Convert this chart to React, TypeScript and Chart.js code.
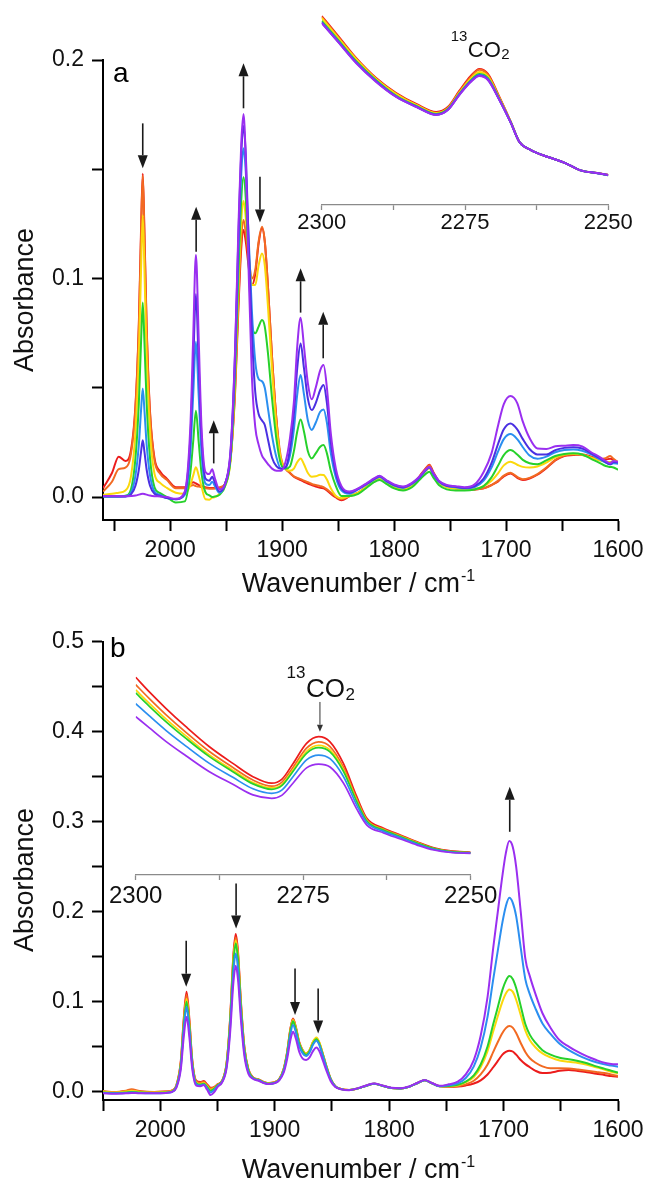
import React, { useEffect, useRef } from "react";
import { Chart, registerables } from "chart.js";

Chart.register(...registerables);

const FONT = '"Liberation Sans", Arial, Helvetica, sans-serif';
Chart.defaults.font.family = FONT;
Chart.defaults.color = "#111";

// ---------------- Panel a : main spectra ----------------
const WN_A = [2060, 2052, 2046, 2040, 2035,
  2031, 2028, 2026, 2024.5, 2023, 2021, 2018, 2014, 2009, 2003, 1995,
  1987, 1982, 1979.5, 1977, 1974.5, 1972, 1968.5, 1965, 1962.5, 1960, 1956,
  1951, 1946, 1942, 1939, 1936.5, 1934.5, 1932.5, 1930, 1927, 1924, 1921, 1918, 1915.5, 1912.5, 1909, 1905, 1901,
  1897, 1893, 1889.5, 1886.5, 1883.5, 1880.5, 1877, 1873.5, 1870, 1866, 1863, 1860, 1856.5, 1852, 1847, 1840,
  1832, 1824, 1818, 1813, 1807, 1800, 1792, 1784, 1777, 1772, 1768.5, 1765, 1760, 1753, 1745, 1737, 1728,
  1720, 1713, 1707, 1702, 1696, 1690, 1685, 1679, 1672, 1664, 1656, 1648, 1640, 1632, 1624, 1617, 1611, 1607, 1604, 1600];

const A_RED = [0.004, 0.011, 0.0185, 0.0165, 0.0214,
  0.042, 0.079, 0.1228, 0.148, 0.1218, 0.0783, 0.039, 0.0178, 0.0117, 0.0084, 0.0045,
  0.0045, 0.006, 0.0068, 0.0062, 0.0055, 0.005, 0.0045, 0.0042, 0.0042, 0.004, 0.0042,
  0.006, 0.018, 0.048, 0.087, 0.114, 0.1222, 0.117, 0.106, 0.097, 0.102, 0.116, 0.123, 0.117, 0.095, 0.064, 0.035, 0.016,
  0.013, 0.011, 0.0093, 0.0085, 0.0078, 0.007, 0.0062, 0.0055, 0.0048, 0.0042, 0.004, 0.003, 0.0015, -0.0002, -0.0015, 0.0003,
  0.002, 0.005, 0.0072, 0.0088, 0.0068, 0.0048, 0.0038, 0.0055, 0.0097, 0.013, 0.0148, 0.0115, 0.0072, 0.0052, 0.004, 0.0035, 0.0035,
  0.004, 0.0055, 0.0072, 0.0095, 0.0108, 0.0088, 0.0078, 0.0085, 0.0102, 0.0132, 0.0168, 0.0188, 0.0192, 0.0195, 0.0185, 0.0175, 0.0172, 0.0175, 0.017, 0.0155];

const A_ORANGE = [0.0025, 0.007, 0.0128, 0.0135, 0.0199,
  0.041, 0.0778, 0.12, 0.147, 0.12, 0.0768, 0.038, 0.0168, 0.0107, 0.0079, 0.004,
  0.004, 0.005, 0.0055, 0.005, 0.0048, 0.0045, 0.004, 0.0038, 0.0038, 0.004, 0.0045,
  0.006, 0.018, 0.05, 0.09, 0.118, 0.1268, 0.121, 0.11, 0.1, 0.104, 0.117, 0.1237, 0.117, 0.095, 0.064, 0.035, 0.018,
  0.013, 0.011, 0.0095, 0.0088, 0.0082, 0.0075, 0.0068, 0.006, 0.0055, 0.005, 0.0045, 0.0035, 0.002, 0.0002, -0.001, 0.0005,
  0.002, 0.005, 0.0072, 0.0088, 0.0068, 0.0048, 0.0038, 0.0055, 0.0095, 0.0128, 0.0145, 0.0112, 0.007, 0.005, 0.004, 0.0035, 0.0035,
  0.004, 0.0055, 0.0075, 0.0098, 0.0111, 0.0092, 0.0082, 0.0088, 0.0105, 0.0135, 0.017, 0.019, 0.0195, 0.0192, 0.0182, 0.0175, 0.0178, 0.0188, 0.0175, 0.016];

const A_YELLOW = [0.001, 0.0015, 0.002, 0.003, 0.0095,
  0.0298, 0.0645, 0.1042, 0.129, 0.1042, 0.0645, 0.0298, 0.0107, 0.0065, 0.0042, 0.002,
  0.0015, 0.0055, 0.0098, 0.0136, 0.0098, 0.0048, -0.001, -0.0012, -0.0003, 0.0, 0.0015,
  0.005, 0.017, 0.053, 0.096, 0.126, 0.1355, 0.128, 0.112, 0.097, 0.097, 0.106, 0.1115, 0.106, 0.086, 0.058, 0.032, 0.017,
  0.013, 0.012, 0.013, 0.016, 0.0177, 0.015, 0.011, 0.0093, 0.0095, 0.0102, 0.0101, 0.008, 0.004, 0.0005, -0.0005, 0.0005,
  0.002, 0.005, 0.0072, 0.0085, 0.0065, 0.0045, 0.0035, 0.0052, 0.0088, 0.0118, 0.0132, 0.0102, 0.0065, 0.0045, 0.0038, 0.0035, 0.0037,
  0.005, 0.0075, 0.011, 0.0145, 0.0162, 0.0148, 0.0138, 0.0135, 0.014, 0.0158, 0.0182, 0.0195, 0.0198, 0.0195, 0.018, 0.0168, 0.0162, 0.016, 0.0165, 0.016];

const A_GREEN = [0.0002, 0.0002, 0.0003, 0.0006, 0.0036,
  0.0178, 0.0427, 0.0712, 0.089, 0.0712, 0.0427, 0.0178, 0.0045, 0.0018, 0.0, -0.0025,
  -0.002, 0.011, 0.025, 0.0395, 0.025, 0.011, 0.0022, 0.0008, 0.0, 0.0003, 0.001,
  0.005, 0.018, 0.057, 0.104, 0.136, 0.1463, 0.137, 0.108, 0.079, 0.075, 0.078, 0.081, 0.078, 0.065, 0.045, 0.026, 0.015,
  0.013, 0.014, 0.021, 0.03, 0.0355, 0.03, 0.021, 0.0177, 0.02, 0.023, 0.0238, 0.02, 0.012, 0.005, 0.0005, 0.0005,
  0.0015, 0.0045, 0.0068, 0.0078, 0.006, 0.004, 0.003, 0.0045, 0.008, 0.0105, 0.0116, 0.009, 0.0055, 0.0035, 0.003, 0.003, 0.0035,
  0.005, 0.009, 0.0145, 0.0192, 0.0215, 0.0195, 0.017, 0.0155, 0.015, 0.0168, 0.0188, 0.0197, 0.02, 0.0195, 0.0175, 0.0158, 0.0142, 0.0138, 0.0135, 0.0125];

const A_BLUE = [0.0003, 0.0002, 0.0002, 0.0003, 0.002,
  0.0099, 0.0239, 0.0398, 0.0497, 0.0398, 0.0239, 0.0099, 0.0025, 0.001, -0.0005, -0.001,
  0.001, 0.02, 0.046, 0.0711, 0.046, 0.02, 0.0062, 0.0055, 0.007, 0.005, 0.002,
  0.006, 0.02, 0.062, 0.113, 0.148, 0.1596, 0.149, 0.12, 0.085, 0.062, 0.054, 0.053, 0.05, 0.04, 0.028, 0.018, 0.013,
  0.0135, 0.019, 0.031, 0.047, 0.0558, 0.047, 0.035, 0.0307, 0.034, 0.039, 0.0401, 0.034, 0.02, 0.009, 0.003, 0.0015,
  0.0035, 0.006, 0.008, 0.0092, 0.0072, 0.0052, 0.0042, 0.006, 0.009, 0.012, 0.0135, 0.0105, 0.007, 0.005, 0.0045, 0.004, 0.0046,
  0.0075, 0.0135, 0.021, 0.0265, 0.0288, 0.0265, 0.0228, 0.019, 0.0175, 0.0185, 0.0205, 0.0215, 0.0218, 0.0212, 0.0195, 0.0175, 0.0158, 0.015, 0.0155, 0.0152];

const A_DARKBLUE = [0.0003, 0.0003, 0.0003, 0.0003, 0.0012,
  0.0052, 0.0125, 0.0208, 0.026, 0.0208, 0.0125, 0.0052, 0.0015, 0.0005, -0.0005, -0.001,
  0.0018, 0.027, 0.06, 0.0929, 0.06, 0.027, 0.0085, 0.0075, 0.0093, 0.0065, 0.0025,
  0.006, 0.021, 0.066, 0.12, 0.157, 0.1698, 0.157, 0.118, 0.075, 0.048, 0.038, 0.035, 0.033, 0.026, 0.018, 0.014, 0.013,
  0.0135, 0.022, 0.038, 0.059, 0.0703, 0.059, 0.045, 0.0398, 0.043, 0.049, 0.0513, 0.043, 0.025, 0.011, 0.004, 0.002,
  0.0038, 0.0062, 0.0082, 0.0095, 0.0075, 0.0055, 0.0045, 0.0062, 0.0092, 0.0122, 0.0136, 0.0108, 0.0072, 0.0052, 0.0047, 0.0042, 0.005,
  0.0085, 0.0155, 0.0245, 0.031, 0.0337, 0.031, 0.0265, 0.022, 0.0195, 0.0195, 0.0215, 0.0225, 0.0228, 0.0222, 0.02, 0.018, 0.016, 0.015, 0.016, 0.0158];

const A_PURPLE = [0.0005, 0.0005, 0.0004, 0.0004, 0.0005,
  0.0007, 0.0011, 0.0014, 0.0015, 0.0014, 0.0011, 0.0007, 0.0004, 0.0003, 0.0, -0.0008,
  0.0025, 0.032, 0.072, 0.1108, 0.072, 0.032, 0.0115, 0.0105, 0.0127, 0.0085, 0.0035,
  0.006, 0.022, 0.068, 0.124, 0.162, 0.1753, 0.155, 0.105, 0.055, 0.032, 0.024, 0.019, 0.017, 0.015, 0.013, 0.012, 0.012,
  0.016, 0.027, 0.0435, 0.069, 0.0821, 0.069, 0.052, 0.0447, 0.05, 0.058, 0.0604, 0.05, 0.029, 0.013, 0.005, 0.0025,
  0.004, 0.0065, 0.0085, 0.0098, 0.0078, 0.0058, 0.0048, 0.0065, 0.0095, 0.0125, 0.0138, 0.011, 0.0075, 0.0055, 0.005, 0.0045, 0.0058,
  0.0115, 0.02, 0.033, 0.0425, 0.0462, 0.043, 0.0345, 0.027, 0.0222, 0.022, 0.0232, 0.0235, 0.0238, 0.0232, 0.0205, 0.0185, 0.0165, 0.0155, 0.0165, 0.0162];

// arrows of panel a (wavenumber, tail absorbance, tip absorbance)
const A_ARROWS = [
  { x: 2024.5, from: 0.171, to: 0.1505 },
  { x: 1976.8, from: 0.1123, to: 0.1329 },
  { x: 1961.1, from: 0.0154, to: 0.0352 },
  { x: 1934.5, from: 0.1779, to: 0.1985 },
  { x: 1919.8, from: 0.1466, to: 0.1256 },
  { x: 1883.5, from: 0.0844, to: 0.1047 },
  { x: 1863.3, from: 0.0635, to: 0.0848 },
];

// ---------------- Panel a : 13CO2 inset (relative absorbance) ----------------
const INSET_A_WN = [2300, 2297, 2294, 2290.5, 2287, 2283.5, 2280, 2278, 2276, 2274, 2272.5, 2271, 2269, 2267, 2265.5, 2263.5, 2260.5, 2257.5, 2255, 2252, 2250];
const IA_RED = [0.969, 0.862, 0.754, 0.651, 0.574, 0.518, 0.477, 0.502, 0.585, 0.662, 0.698, 0.672, 0.554, 0.426, 0.323, 0.282, 0.246, 0.215, 0.179, 0.164, 0.154];
const IA_ORANGE = [0.964, 0.857, 0.749, 0.646, 0.569, 0.513, 0.472, 0.497, 0.58, 0.656, 0.693, 0.667, 0.551, 0.424, 0.323, 0.282, 0.246, 0.215, 0.179, 0.164, 0.154];
const IA_YELLOW = [0.959, 0.852, 0.749, 0.646, 0.569, 0.513, 0.472, 0.495, 0.575, 0.648, 0.682, 0.659, 0.546, 0.424, 0.323, 0.282, 0.246, 0.215, 0.179, 0.164, 0.154];
const IA_GREEN = [0.944, 0.841, 0.738, 0.64, 0.56, 0.508, 0.467, 0.492, 0.57, 0.639, 0.672, 0.651, 0.543, 0.423, 0.323, 0.282, 0.246, 0.215, 0.179, 0.164, 0.152];
const IA_BLUE = [0.938, 0.836, 0.733, 0.636, 0.557, 0.505, 0.464, 0.489, 0.567, 0.636, 0.667, 0.646, 0.54, 0.422, 0.323, 0.282, 0.246, 0.215, 0.179, 0.163, 0.152];
const IA_DARKBLUE = [0.935, 0.833, 0.73, 0.633, 0.555, 0.504, 0.463, 0.488, 0.565, 0.633, 0.664, 0.643, 0.539, 0.421, 0.323, 0.282, 0.246, 0.215, 0.179, 0.164, 0.154];
const IA_PURPLE = [0.933, 0.831, 0.728, 0.631, 0.554, 0.503, 0.462, 0.487, 0.564, 0.631, 0.662, 0.641, 0.538, 0.421, 0.323, 0.282, 0.246, 0.215, 0.179, 0.164, 0.154];

// ---------------- Panel b : main spectra ----------------
const WN_B = [2050, 2040, 2030, 2025, 2018, 2005, 1995, 1990,
  1986, 1982, 1979.5, 1977, 1974.5, 1972, 1968.5, 1965, 1962, 1959, 1956, 1953, 1950,
  1946, 1942, 1939, 1936, 1934, 1932, 1929.5, 1926.5, 1923, 1919, 1914, 1909, 1905, 1900,
  1896, 1892, 1889, 1886.5, 1884, 1881.5, 1878.5, 1875.5, 1872.5, 1869.5, 1866.5, 1863.5, 1861, 1858, 1855, 1851, 1847, 1842, 1835,
  1827, 1820, 1813, 1806, 1798, 1790, 1782, 1775, 1769, 1763, 1756, 1748,
  1740, 1733, 1726, 1720, 1714, 1709, 1705, 1701, 1698, 1695, 1692, 1689, 1685, 1681, 1677, 1672, 1666, 1659, 1651, 1643, 1635, 1627, 1619, 1612, 1606, 1600];

const B_RED = [0.0, -0.001, 0.0005, 0.0015, 0.0, -0.0005, 0.0, 0.001,
  0.0065, 0.034, 0.08, 0.111, 0.08, 0.035, 0.012, 0.0105, 0.0117, 0.008, 0.0043, 0.005, 0.008,
  0.012, 0.032, 0.08, 0.153, 0.175, 0.155, 0.1, 0.05, 0.025, 0.016, 0.0135, 0.0105, 0.0095, 0.0105,
  0.014, 0.026, 0.045, 0.068, 0.0813, 0.072, 0.055, 0.046, 0.0424, 0.046, 0.055, 0.059, 0.054, 0.042, 0.029, 0.014, 0.006, 0.003, 0.0018,
  0.0035, 0.0065, 0.0088, 0.0065, 0.004, 0.0035, 0.0055, 0.0095, 0.0125, 0.0095, 0.006, 0.0052,
  0.0055, 0.0068, 0.009, 0.0125, 0.019, 0.027, 0.034, 0.041, 0.044, 0.0454, 0.0445, 0.041, 0.035, 0.0305, 0.027, 0.023, 0.0205, 0.021, 0.023, 0.024, 0.0228, 0.0215, 0.0198, 0.0185, 0.0172, 0.0165];

const B_ORANGE = [0.0005, -0.0005, 0.001, 0.0025, 0.0005, -0.0005, 0.0, 0.001,
  0.006, 0.0325, 0.077, 0.1072, 0.077, 0.0335, 0.011, 0.0098, 0.0108, 0.007, 0.0035, 0.0045, 0.0075,
  0.0118, 0.031, 0.078, 0.15, 0.1713, 0.152, 0.098, 0.049, 0.0245, 0.0158, 0.0133, 0.0103, 0.0093, 0.0103,
  0.0138, 0.0255, 0.044, 0.067, 0.0805, 0.071, 0.054, 0.0455, 0.042, 0.0455, 0.0545, 0.0588, 0.0538, 0.0418, 0.0288, 0.0138, 0.0058, 0.0028, 0.0017,
  0.0035, 0.0065, 0.0088, 0.0065, 0.004, 0.0035, 0.0055, 0.0095, 0.0125, 0.0095, 0.006, 0.0055,
  0.006, 0.008, 0.012, 0.019, 0.03, 0.044, 0.055, 0.065, 0.0705, 0.0728, 0.071, 0.065, 0.054, 0.044, 0.037, 0.032, 0.028, 0.0258, 0.0258, 0.0256, 0.0245, 0.0232, 0.0218, 0.0205, 0.019, 0.0172];

const B_YELLOW = [0.0, -0.001, 0.0, 0.001, -0.0005, -0.001, -0.0005, 0.0005,
  0.0058, 0.031, 0.074, 0.103, 0.074, 0.032, 0.0098, 0.0085, 0.0095, 0.0058, 0.002, 0.0035, 0.007,
  0.0115, 0.031, 0.077, 0.147, 0.168, 0.149, 0.096, 0.048, 0.024, 0.0155, 0.013, 0.01, 0.009, 0.01,
  0.0135, 0.025, 0.0435, 0.066, 0.0794, 0.0705, 0.054, 0.0455, 0.0422, 0.046, 0.0555, 0.06, 0.0548, 0.0425, 0.029, 0.0138, 0.0058, 0.0028, 0.0017,
  0.0035, 0.0065, 0.0088, 0.0065, 0.004, 0.0035, 0.0055, 0.0095, 0.0125, 0.0095, 0.006, 0.006,
  0.007, 0.0105, 0.016, 0.027, 0.045, 0.067, 0.084, 0.1, 0.109, 0.1135, 0.111, 0.102, 0.085, 0.068, 0.057, 0.049, 0.0424, 0.038, 0.0345, 0.033, 0.0318, 0.0298, 0.027, 0.0245, 0.022, 0.0202];

const B_GREEN = [-0.001, -0.0015, -0.001, -0.0005, -0.001, -0.0015, -0.001, 0.0,
  0.0055, 0.03, 0.072, 0.0998, 0.072, 0.031, 0.009, 0.0078, 0.0088, 0.005, 0.001, 0.003, 0.0068,
  0.0113, 0.03, 0.075, 0.144, 0.1646, 0.146, 0.094, 0.047, 0.0235, 0.0152, 0.0128, 0.0098, 0.0088, 0.0098,
  0.0133, 0.0245, 0.043, 0.065, 0.078, 0.069, 0.053, 0.0445, 0.041, 0.0448, 0.0535, 0.058, 0.053, 0.041, 0.028, 0.0135, 0.0057, 0.0027, 0.0016,
  0.0035, 0.0065, 0.0088, 0.0065, 0.004, 0.0035, 0.0055, 0.0095, 0.0125, 0.0095, 0.006, 0.0062,
  0.0075, 0.011, 0.018, 0.03, 0.05, 0.075, 0.094, 0.113, 0.123, 0.1283, 0.125, 0.115, 0.095, 0.075, 0.063, 0.054, 0.046, 0.041, 0.0375, 0.036, 0.034, 0.0315, 0.028, 0.0255, 0.0232, 0.021];

const B_BLUE = [-0.0015, -0.002, -0.0015, -0.001, -0.0015, -0.002, -0.0015, -0.0005,
  0.005, 0.028, 0.068, 0.0943, 0.068, 0.029, 0.008, 0.0068, 0.0078, 0.0035, -0.001, 0.0015, 0.006,
  0.0108, 0.028, 0.07, 0.134, 0.1535, 0.136, 0.088, 0.044, 0.022, 0.0148, 0.0125, 0.0095, 0.0085, 0.0095,
  0.013, 0.0235, 0.041, 0.062, 0.0739, 0.066, 0.0505, 0.0425, 0.0395, 0.0435, 0.052, 0.0565, 0.0518, 0.0402, 0.0275, 0.0132, 0.0056, 0.0027, 0.0016,
  0.0035, 0.0065, 0.0088, 0.0065, 0.004, 0.0035, 0.0055, 0.0095, 0.0125, 0.0095, 0.006, 0.007,
  0.009, 0.015, 0.028, 0.049, 0.083, 0.125, 0.157, 0.188, 0.206, 0.2154, 0.21, 0.195, 0.16, 0.125, 0.108, 0.092, 0.0757, 0.064, 0.053, 0.046, 0.0405, 0.036, 0.0325, 0.0302, 0.0288, 0.0276];

const B_PURPLE = [-0.002, -0.0025, -0.002, -0.0015, -0.002, -0.002, -0.0015, -0.0005,
  0.004, 0.025, 0.06, 0.0831, 0.06, 0.025, 0.0065, 0.0058, 0.0072, 0.002, -0.0039, -0.001, 0.005,
  0.01, 0.026, 0.064, 0.122, 0.1398, 0.124, 0.08, 0.04, 0.02, 0.0142, 0.012, 0.0093, 0.0083, 0.0093,
  0.0125, 0.0215, 0.037, 0.0555, 0.0665, 0.059, 0.044, 0.0365, 0.035, 0.038, 0.045, 0.049, 0.045, 0.035, 0.024, 0.0115, 0.005, 0.0025, 0.0015,
  0.0038, 0.0068, 0.009, 0.0068, 0.0042, 0.0037, 0.0058, 0.0098, 0.0128, 0.0098, 0.0063, 0.008,
  0.011, 0.019, 0.035, 0.062, 0.105, 0.16, 0.2, 0.24, 0.265, 0.2784, 0.272, 0.25, 0.2, 0.148, 0.128, 0.108, 0.087, 0.071, 0.057, 0.05, 0.044, 0.039, 0.035, 0.032, 0.0305, 0.0302];

const B_ARROWS = [
  { x: 1977.3, from: 0.1676, to: 0.1165 },
  { x: 1933.7, from: 0.2313, to: 0.1813 },
  { x: 1882.2, from: 0.1369, to: 0.085 },
  { x: 1862, from: 0.1146, to: 0.0646 },
  { x: 1694.6, from: 0.2887, to: 0.3387 },
];

// ---------------- Panel b : 13CO2 inset (relative absorbance) ----------------
const INSET_B_WN = [2300, 2298, 2295.5, 2292.5, 2289, 2285.5, 2282.5, 2279.7, 2278.2, 2276.5, 2274.5, 2272.7, 2271, 2269, 2267, 2265.5, 2263, 2260.5, 2258, 2255.5, 2253, 2250];
const IB_RED = [0.879, 0.815, 0.741, 0.659, 0.57, 0.496, 0.437, 0.408, 0.425, 0.496, 0.585, 0.615, 0.592, 0.496, 0.348, 0.252, 0.208, 0.178, 0.148, 0.121, 0.107, 0.101];
const IB_ORANGE = [0.846, 0.785, 0.713, 0.634, 0.549, 0.478, 0.422, 0.395, 0.412, 0.479, 0.564, 0.592, 0.571, 0.479, 0.338, 0.246, 0.204, 0.175, 0.145, 0.119, 0.106, 0.1];
const IB_YELLOW = [0.823, 0.764, 0.694, 0.618, 0.534, 0.466, 0.411, 0.387, 0.402, 0.468, 0.55, 0.576, 0.556, 0.468, 0.33, 0.242, 0.201, 0.172, 0.143, 0.116, 0.103, 0.098];
const IB_GREEN = [0.809, 0.751, 0.682, 0.607, 0.526, 0.459, 0.405, 0.381, 0.397, 0.461, 0.541, 0.566, 0.547, 0.461, 0.326, 0.24, 0.2, 0.171, 0.142, 0.117, 0.104, 0.099];
const IB_BLUE = [0.762, 0.708, 0.643, 0.573, 0.496, 0.434, 0.383, 0.363, 0.377, 0.438, 0.512, 0.533, 0.517, 0.438, 0.311, 0.232, 0.194, 0.166, 0.138, 0.114, 0.102, 0.098];
const IB_PURPLE = [0.704, 0.655, 0.594, 0.53, 0.459, 0.403, 0.356, 0.341, 0.354, 0.409, 0.476, 0.493, 0.48, 0.409, 0.293, 0.222, 0.187, 0.16, 0.133, 0.111, 0.1, 0.096];

// ---------------- colours ----------------
const RED = "#ec1c1c";
const ORANGE = "#f26a22";
const YELLOW = "#fbd80c";
const GREEN = "#27d12b";
const BLUE = "#2b8ff0";
const DARKBLUE = "#4a30e2";
const PURPLE = "#9a2ff0";

type Series = { label: string; color: string; values: number[] };
type Arrow = { x: number; from: number; to: number };

function makeDatasets(wn: number[], series: Series[], width: number) {
  return series.map((s, i) => ({
    label: s.label,
    data: wn.map((x, k) => ({ x, y: s.values[k] })),
    borderColor: s.color,
    backgroundColor: s.color,
    borderWidth: width,
    pointRadius: 0,
    fill: false,
    cubicInterpolationMode: "monotone" as const,
    order: series.length - 1 - i,
  }));
}

function drawArrow(ctx: CanvasRenderingContext2D, x: number, y0: number, y1: number, head: number, half: number, lw: number, color: string) {
  const dir = Math.sign(y1 - y0);
  const baseY = y1 - dir * head;
  ctx.strokeStyle = color;
  ctx.fillStyle = color;
  ctx.lineWidth = lw;
  ctx.beginPath();
  ctx.moveTo(x, y0);
  ctx.lineTo(x, baseY);
  ctx.stroke();
  ctx.beginPath();
  ctx.moveTo(x, y1);
  ctx.lineTo(x - half, baseY);
  ctx.lineTo(x + half, baseY);
  ctx.closePath();
  ctx.fill();
}

function drawXTitle(ctx: CanvasRenderingContext2D, cx: number, baseline: number) {
  const main = "Wavenumber / cm";
  const sup = "-1";
  ctx.font = `27px ${FONT}`;
  const w1 = ctx.measureText(main).width;
  ctx.font = `16px ${FONT}`;
  const w2 = ctx.measureText(sup).width;
  const x0 = cx - (w1 + w2) / 2;
  ctx.fillStyle = "#111";
  ctx.textAlign = "left";
  ctx.textBaseline = "alphabetic";
  ctx.font = `27px ${FONT}`;
  ctx.fillText(main, x0, baseline);
  ctx.font = `16px ${FONT}`;
  ctx.fillText(sup, x0 + w1 + 1, baseline - 11);
}

function drawCO2(ctx: CanvasRenderingContext2D, xLeft: number, baseline: number, size: number) {
  const small = Math.round(size * 0.66);
  ctx.fillStyle = "#111";
  ctx.textBaseline = "alphabetic";
  ctx.font = `${small}px ${FONT}`;
  ctx.textAlign = "right";
  ctx.fillText("13", xLeft - 0.5, baseline - size * 0.72);
  ctx.font = `${size}px ${FONT}`;
  ctx.textAlign = "left";
  ctx.fillText("CO", xLeft, baseline);
  const w = ctx.measureText("CO").width;
  ctx.font = `${small}px ${FONT}`;
  ctx.fillText("2", xLeft + w + 0.5, baseline + size * 0.1);
}

type MainSpec = {
  wn: number[];
  series: Series[];
  xMin: number;
  xMax: number;
  yMin: number;
  yMax: number;
  padTop: number;
  xAxisH: number;
  arrows: Arrow[];
  letter: string;
  letterX: number;
  letterY: number;
  absY: number;
  titleY: number;
};

// main canvases are 660 px wide (clipped at 647 by the page box) so that the
// "1600" label never forces Chart.js to shrink the plot area
const MAIN_W = 660;
const PLOT_RIGHT = 618;

function mainConfig(p: MainSpec): any {
  const axisCommon = {
    border: { display: true, color: "#000", width: 2 },
    grid: { display: true, drawOnChartArea: false, drawTicks: true, tickLength: 11, tickWidth: 2, tickColor: "#000" },
  };
  const plugin = {
    id: "mainAnnot",
    afterDraw(chart: any) {
      const ctx: CanvasRenderingContext2D = chart.ctx;
      const xs = chart.scales.x;
      const ys = chart.scales.y;
      ctx.save();
      p.arrows.forEach((a) =>
        drawArrow(ctx, xs.getPixelForValue(a.x), ys.getPixelForValue(a.from), ys.getPixelForValue(a.to), 13, 5, 1.6, "#1a1a1a")
      );
      ctx.fillStyle = "#000";
      ctx.font = `28px ${FONT}`;
      ctx.textAlign = "left";
      ctx.textBaseline = "alphabetic";
      ctx.fillText(p.letter, p.letterX, p.letterY);
      ctx.save();
      ctx.translate(26, p.absY);
      ctx.rotate(-Math.PI / 2);
      ctx.font = `27px ${FONT}`;
      ctx.textAlign = "center";
      ctx.textBaseline = "middle";
      ctx.fillStyle = "#111";
      ctx.fillText("Absorbance", 0, 0);
      ctx.restore();
      drawXTitle(ctx, 358, p.titleY);
      ctx.restore();
    },
  };
  return {
    type: "line",
    data: { datasets: makeDatasets(p.wn, p.series, 2) },
    options: {
      animation: false,
      responsive: false,
      devicePixelRatio: 1,
      layout: { padding: { left: 0, right: MAIN_W - PLOT_RIGHT, top: p.padTop, bottom: 0 } },
      plugins: { legend: { display: false }, tooltip: { enabled: false } },
      scales: {
        x: {
          type: "linear",
          reverse: true,
          min: p.xMin,
          max: p.xMax,
          afterFit: (s: any) => {
            s.height = p.xAxisH;
          },
          ...axisCommon,
          ticks: {
            stepSize: 50,
            includeBounds: false,
            autoSkip: false,
            maxRotation: 0,
            minRotation: 0,
            padding: 6,
            color: "#111",
            font: { family: FONT, size: 23 },
            callback: (v: number) => (Math.round(v) % 100 === 0 ? String(v) : ""),
          },
        },
        y: {
          type: "linear",
          min: p.yMin,
          max: p.yMax,
          afterFit: (s: any) => {
            s.width = 103;
          },
          ...axisCommon,
          ticks: {
            stepSize: 0.05,
            includeBounds: false,
            padding: 8,
            color: "#111",
            font: { family: FONT, size: 23 },
            callback: (v: number) => {
              const t = Math.round(v * 100);
              return t % 10 === 0 ? (t / 100).toFixed(1) : "";
            },
          },
        },
      },
    },
    plugins: [plugin],
  };
}

type InsetSpec = {
  wn: number[];
  series: Series[];
  padLeft: number;
  padRight: number;
  axisH: number;
  fontSize: number;
  tickPad: number;
  labelX: number;
  labelY: number;
  labelSize: number;
  arrow?: Arrow;
  lineWidth: number;
};

function insetConfig(p: InsetSpec): any {
  const plugin = {
    id: "insetAnnot",
    afterDraw(chart: any) {
      const ctx: CanvasRenderingContext2D = chart.ctx;
      const xs = chart.scales.x;
      const ys = chart.scales.y;
      ctx.save();
      drawCO2(ctx, xs.getPixelForValue(p.labelX), ys.getPixelForValue(p.labelY), p.labelSize);
      if (p.arrow) {
        drawArrow(ctx, xs.getPixelForValue(p.arrow.x), ys.getPixelForValue(p.arrow.from), ys.getPixelForValue(p.arrow.to), 7, 3, 1, "#333");
      }
      ctx.restore();
    },
  };
  return {
    type: "line",
    data: { datasets: makeDatasets(p.wn, p.series, p.lineWidth) },
    options: {
      animation: false,
      responsive: false,
      devicePixelRatio: 1,
      layout: { padding: { left: p.padLeft, right: p.padRight, top: 10, bottom: 0 } },
      plugins: { legend: { display: false }, tooltip: { enabled: false } },
      scales: {
        x: {
          type: "linear",
          reverse: true,
          min: 2250,
          max: 2300,
          afterFit: (s: any) => {
            s.height = p.axisH;
          },
          border: { display: true, color: "#8a8a8a", width: 1.3 },
          grid: { display: true, drawOnChartArea: false, drawTicks: true, tickLength: 5, tickWidth: 1.3, tickColor: "#8a8a8a" },
          ticks: {
            stepSize: 12.5,
            includeBounds: false,
            autoSkip: false,
            maxRotation: 0,
            minRotation: 0,
            padding: p.tickPad,
            color: "#111",
            font: { family: FONT, size: p.fontSize },
            callback: (v: number) => (v % 25 === 0 ? String(v) : ""),
          },
        },
        y: { display: false, min: 0, max: 1 },
      },
    },
    plugins: [plugin],
  };
}

function ChartBox(props: { left: number; top: number; width: number; height: number; build: () => any }) {
  const ref = useRef<HTMLCanvasElement>(null);
  useEffect(() => {
    const chart = new Chart(ref.current as HTMLCanvasElement, props.build());
    return () => chart.destroy();
  }, []);
  return (
    <canvas
      ref={ref}
      width={props.width}
      height={props.height}
      style={{ position: "absolute", left: props.left, top: props.top, width: props.width, height: props.height }}
    />
  );
}

const SERIES_A: Series[] = [
  { label: "1", color: RED, values: A_RED },
  { label: "2", color: ORANGE, values: A_ORANGE },
  { label: "3", color: YELLOW, values: A_YELLOW },
  { label: "4", color: GREEN, values: A_GREEN },
  { label: "5", color: BLUE, values: A_BLUE },
  { label: "6", color: DARKBLUE, values: A_DARKBLUE },
  { label: "7", color: PURPLE, values: A_PURPLE },
];
const SERIES_IA: Series[] = [
  { label: "1", color: RED, values: IA_RED },
  { label: "2", color: ORANGE, values: IA_ORANGE },
  { label: "3", color: YELLOW, values: IA_YELLOW },
  { label: "4", color: GREEN, values: IA_GREEN },
  { label: "5", color: BLUE, values: IA_BLUE },
  { label: "6", color: DARKBLUE, values: IA_DARKBLUE },
  { label: "7", color: PURPLE, values: IA_PURPLE },
];
const SERIES_B: Series[] = [
  { label: "1", color: RED, values: B_RED },
  { label: "2", color: ORANGE, values: B_ORANGE },
  { label: "3", color: YELLOW, values: B_YELLOW },
  { label: "4", color: GREEN, values: B_GREEN },
  { label: "5", color: BLUE, values: B_BLUE },
  { label: "6", color: PURPLE, values: B_PURPLE },
];
const SERIES_IB: Series[] = [
  { label: "1", color: RED, values: IB_RED },
  { label: "2", color: ORANGE, values: IB_ORANGE },
  { label: "3", color: YELLOW, values: IB_YELLOW },
  { label: "4", color: GREEN, values: IB_GREEN },
  { label: "5", color: BLUE, values: IB_BLUE },
  { label: "6", color: PURPLE, values: IB_PURPLE },
];

export default function App() {
  return (
    <div style={{ position: "absolute", left: 0, top: 0, width: 647, height: 1187, background: "#fff", overflow: "hidden" }}>
      <ChartBox
        left={0}
        top={0}
        width={MAIN_W}
        height={620}
        build={() =>
          mainConfig({
            wn: WN_A,
            series: SERIES_A,
            xMin: 1600,
            xMax: 2060,
            yMin: -0.0105,
            yMax: 0.2,
            padTop: 60,
            xAxisH: 100,
            arrows: A_ARROWS,
            letter: "a",
            letterX: 113,
            letterY: 82,
            absY: 300,
            titleY: 592,
          })
        }
      />
      <ChartBox
        left={290}
        top={0}
        width={357}
        height={245}
        build={() =>
          insetConfig({
            wn: INSET_A_WN,
            series: SERIES_IA,
            padLeft: 31.7,
            padRight: 38.7,
            axisH: 40,
            fontSize: 22,
            tickPad: 0,
            labelX: 2274.5,
            labelY: 0.759,
            labelSize: 22,
            lineWidth: 2,
          })
        }
      />
      <ChartBox
        left={0}
        top={600}
        width={MAIN_W}
        height={587}
        build={() =>
          mainConfig({
            wn: WN_B,
            series: SERIES_B,
            xMin: 1600,
            xMax: 2050,
            yMin: -0.0094,
            yMax: 0.5,
            padTop: 41.7,
            xAxisH: 87,
            arrows: B_ARROWS,
            letter: "b",
            letterX: 110,
            letterY: 57,
            absY: 280,
            titleY: 578,
          })
        }
      />
      <ChartBox
        left={100}
        top={640}
        width={410}
        height={280}
        build={() =>
          insetConfig({
            wn: INSET_B_WN,
            series: SERIES_IB,
            padLeft: 35.7,
            padRight: 39.3,
            axisH: 45,
            fontSize: 24,
            tickPad: 2,
            labelX: 2274.6,
            labelY: 0.791,
            labelSize: 26,
            arrow: { x: 2272.5, from: 0.769, to: 0.637 },
            lineWidth: 1.7,
          })
        }
      />
    </div>
  );
}
